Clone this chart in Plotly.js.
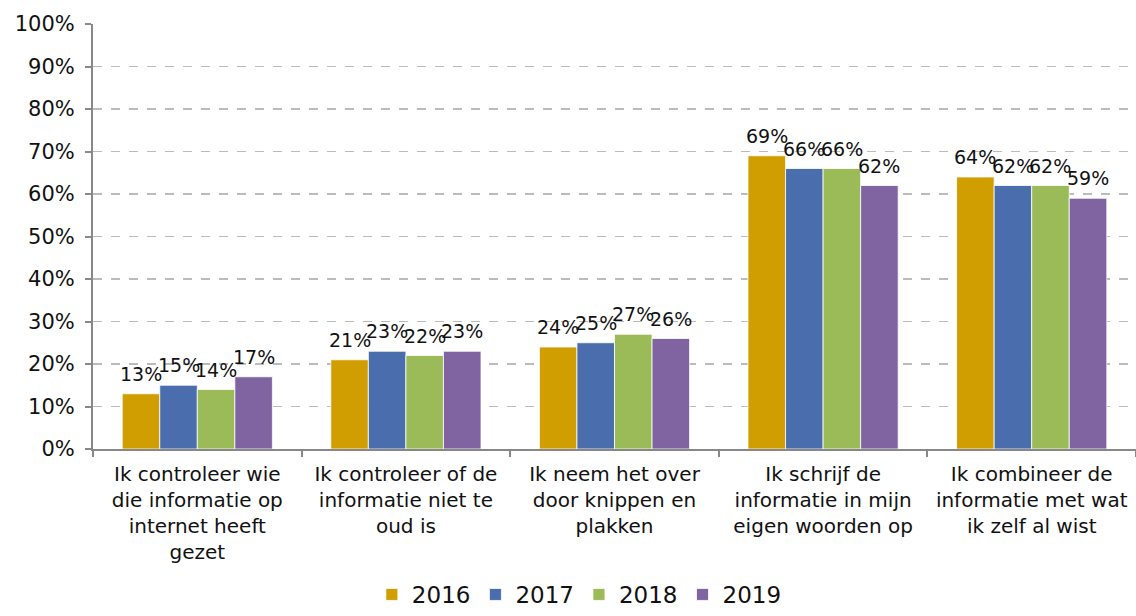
<!DOCTYPE html>
<html><head><meta charset="utf-8">
<script src="https://cdn.plot.ly/plotly-3.0.1.min.js"></script>
<style>body{margin:0}#c{width:1136px;height:616px}</style>
</head><body><div id="c"></div>
<script>
const categories = [
  "Ik controleer wie<br>die informatie op<br>internet heeft<br>gezet",
  "Ik controleer of de<br>informatie niet te<br>oud is",
  "Ik neem het over<br>door knippen en<br>plakken",
  "Ik schrijf de<br>informatie in mijn<br>eigen woorden op",
  "Ik combineer de<br>informatie met wat<br>ik zelf al wist"
];
const years = ["2016", "2017", "2018", "2019"];
const v2016 = [13, 21, 24, 69, 64];
const v2017 = [15, 23, 25, 66, 62];
const v2018 = [14, 22, 27, 66, 62];
const v2019 = [17, 23, 26, 62, 59];
const series = [v2016, v2017, v2018, v2019];
const colors = ["#D09E00", "#4A6DAD", "#9BBB59", "#8064A2"];
const bargap = 0.28;
const traces = series.map((vals, i) => ({
  type: "bar",
  name: years[i],
  x: categories,
  y: vals,
  marker: {color: colors[i], line: {color: "#fff", width: 0.8}},
  hoverinfo: "none"
}));
const barW = (1 - bargap) / series.length;
const annotations = [];
series.forEach((vals, j) => {
  vals.forEach((v, ci) => {
    annotations.push({
      xref: "x", yref: "y",
      x: ci + (j - (series.length - 1) / 2) * barW,
      y: v, text: v + "%",
      showarrow: false, yanchor: "bottom", yshift: 7,
      font: {family: "DejaVu Sans", size: 19, color: "#111"}
    });
  });
});
const layout = {
  width: 1136, height: 616,
  margin: {l: 93, r: 0, t: 24, b: 167},
  paper_bgcolor: "#fff", plot_bgcolor: "#fff",
  font: {family: "DejaVu Sans", size: 20, color: "#111"},
  barmode: "group", bargap: bargap, bargroupgap: 0,
  showlegend: true,
  annotations: annotations,
  legend: {orientation: "h", x: 0.51, xanchor: "center", xref: "container",
           y: -0.014, yanchor: "bottom", yref: "container",
           font: {size: 23, color: "#111"}, itemwidth: 30, tracegroupgap: 0},
  xaxis: {
    automargin: false,
    showline: true, linecolor: "#888", linewidth: 2,
    ticks: "outside", tickson: "boundaries", ticklen: 6, tickcolor: "#888", tickwidth: 2,
    tickfont: {size: 20}, showgrid: false, ticklabelstandoff: 6
  },
  yaxis: {
    automargin: false,
    range: [0, 100], dtick: 10, ticksuffix: "%",
    showline: true, linecolor: "#888", linewidth: 2,
    ticks: "outside", ticklen: 6, tickcolor: "#888", tickwidth: 2,
    gridcolor: "#bbb", griddash: "dash", gridwidth: 1.5,
    tickfont: {size: 21}, zeroline: false, ticklabelstandoff: 6
  }
};
Plotly.newPlot("c", traces, layout, {displayModeBar: false, staticPlot: true});
</script></body></html>
